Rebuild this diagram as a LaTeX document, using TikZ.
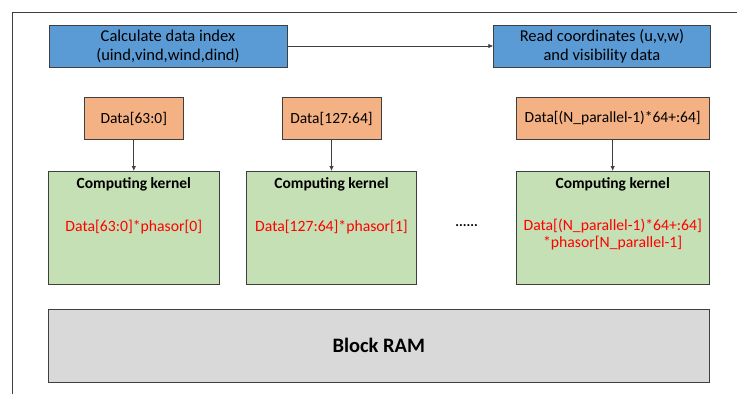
\documentclass[tikz,border=0pt]{standalone}
\usepackage{fontspec}
\setmainfont{Carlito}
\usetikzlibrary{arrows.meta}
\definecolor{edge}{HTML}{3F3F3F}
\definecolor{bluefill}{HTML}{5B9BD5}
\definecolor{orangefill}{HTML}{F4B183}
\definecolor{greenfill}{HTML}{C5E0B4}
\definecolor{grayfill}{HTML}{D9D9D9}
\definecolor{redtext}{HTML}{FF0000}
\tikzset{
  box/.style={draw=edge, line width=0.9pt, inner sep=0pt, outer sep=0pt, align=center},
  taskbox/.style={box, fill=bluefill, font=\fontsize{16.5}{19}\selectfont},
  databox/.style={box, fill=orangefill, font=\fontsize{15.5}{18}\selectfont},
  kernelbox/.style={box, fill=greenfill},
  rambox/.style={box, fill=grayfill, font=\fontsize{20.5}{24}\selectfont\bfseries},
  ktitle/.style={inner sep=0pt, font=\fontsize{15.5}{18}\selectfont\bfseries},
  kbody/.style={inner sep=0pt, align=center, text=redtext, font=\fontsize{15.7}{16.5}\selectfont},
  link/.style={draw=edge, line width=0.8pt, -{Latex[length=5pt,width=4.5pt]}},
}
\begin{document}
\begin{tikzpicture}[x=1pt, y=-1pt]
  \useasboundingbox (0,0) rectangle (737,394);
  % enclosing frame (top and left edges)
  \draw[edge, line width=0.9pt] (12,394) -- (12,12) -- (737,12);

  % control boxes
  \node[taskbox, minimum width=238pt, minimum height=42pt] (calc) at (168,46)
    {Calculate data index\\(uind,vind,wind,dind)};
  \node[taskbox, minimum width=217.4pt, minimum height=42pt] (read) at (602,46)
    {Read coordinates (u,v,w)\\and visibility data};

  % data slices
  \node[databox, minimum width=99pt, minimum height=41.6pt] (d0) at (133.8,118.5) {Data[63:0]};
  \node[databox, minimum width=99pt, minimum height=41.6pt] (d1) at (331.5,118.5) {Data[127:64]};
  \node[databox, minimum width=193.3pt, minimum height=41.6pt] (dn) at (612.7,118.5) {Data[(N\_parallel-1)*64+:64]};

  % computing kernels
  \node[kernelbox, minimum width=170.7pt, minimum height=113pt] (k0) at (133.8,227.5) {};
  \node[kernelbox, minimum width=170pt, minimum height=113pt] (k1) at (331.5,227.5) {};
  \node[kernelbox, minimum width=193.3pt, minimum height=113pt] (kn) at (612.7,227.5) {};

  \node[ktitle] (k0t) at (133.8,184) {Computing kernel};
  \node[ktitle] (k1t) at (331.5,184) {Computing kernel};
  \node[ktitle] (knt) at (612.7,184) {Computing kernel};

  \node[kbody] (k0b) at (133.8,227.5) {Data[63:0]*phasor[0]};
  \node[kbody] (k1b) at (331.5,227.5) {Data[127:64]*phasor[1]};
  \node[kbody] (knb) at (612.7,234.5) {Data[(N\_parallel-1)*64+:64]\\*phasor[N\_parallel-1]};

  \node[inner sep=0pt, font=\fontsize{14}{16}\selectfont\bfseries] (dots) at (466.7,226) {......};

  % block RAM
  \node[rambox, minimum width=661pt, minimum height=73.7pt] (ram) at (378.8,345.8) {Block RAM};

  % connectors
  \draw[link] (calc) -- (read);
  \draw[link] (d0) -- (k0);
  \draw[link] (d1) -- (k1);
  \draw[link] (dn) -- (kn);
\end{tikzpicture}
\end{document}
